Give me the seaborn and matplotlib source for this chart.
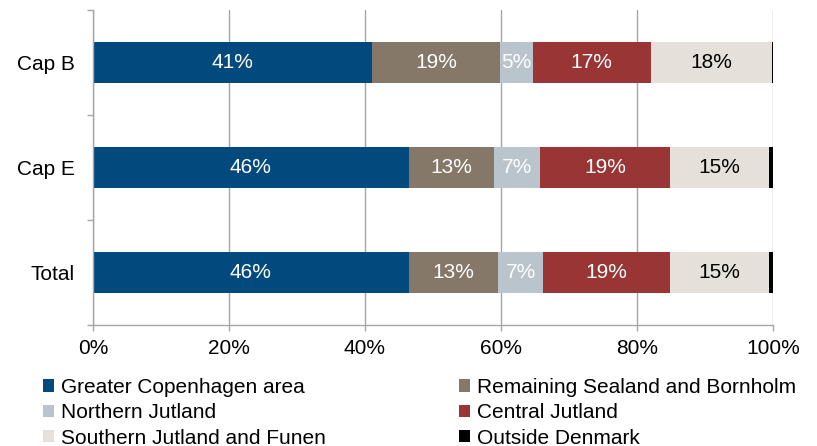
import numpy as np
import pandas as pd
import matplotlib
matplotlib.use("Agg")
import matplotlib.pyplot as plt
import seaborn as sns
from matplotlib.patches import Patch
from matplotlib.ticker import FixedLocator

# Share of each region, in percent, per group
categories = ["Cap B", "Cap E", "Total"]
region_names = [
    "Greater Copenhagen area",
    "Remaining Sealand and Bornholm",
    "Northern Jutland",
    "Central Jutland",
    "Southern Jutland and Funen",
    "Outside Denmark",
]
greater_copenhagen = [41.1, 46.4, 46.4]
remaining_sealand = [18.8, 12.6, 13.2]
northern_jutland = [4.8, 6.8, 6.6]
central_jutland = [17.3, 19.0, 18.6]
southern_jutland = [17.8, 14.6, 14.6]
outside_denmark = [0.2, 0.6, 0.6]

x_ticks = [0, 20, 40, 60, 80, 100]
x_tick_labels = ["0%", "20%", "40%", "60%", "80%", "100%"]

colors = ["#02497E", "#857868", "#B9C4CD", "#9A3535", "#E5E1DA", "#000000"]
label_colors = ["white", "white", "white", "white", "black", "white"]

sns.set_theme(style="white")
plt.rcParams["font.family"] = ["Liberation Sans", "DejaVu Sans"]
plt.rcParams["text.color"] = "black"

series = np.array([greater_copenhagen, remaining_sealand, northern_jutland,
                   central_jutland, southern_jutland, outside_denmark])
ends = np.cumsum(series, axis=0)
starts = ends - series

fig = plt.figure(figsize=(8.17, 4.46), dpi=100)
ax = fig.add_axes([93 / 817, 1 - 325 / 446, 680 / 817, 315 / 446])

# Stacked bars: draw cumulative totals from the outermost segment inwards
for i in reversed(range(len(region_names))):
    df = pd.DataFrame({"group": categories, "value": ends[i]})
    sns.barplot(data=df, x="value", y="group", order=categories, orient="h",
                color=colors[i], saturation=1, width=0.39, linewidth=0, ax=ax)

for i in range(len(region_names)):
    for j in range(len(categories)):
        v = series[i, j]
        if v >= 1:
            ax.text(starts[i, j] + v / 2, j, f"{v:.0f}%", ha="center", va="center",
                    color=label_colors[i], fontsize=15)

grey = "#A6A6A6"
ax.set_xlim(0, 100)
ax.set_ylim(2.5, -0.5)
ax.set_xticks(x_ticks)
ax.set_xticklabels(x_tick_labels)
ax.set_xlabel("")
ax.set_ylabel("")
ax.xaxis.grid(True, color=grey, linewidth=1)
ax.yaxis.grid(False)
ax.set_axisbelow(True)
for side in ["top", "right"]:
    ax.spines[side].set_visible(False)
for side in ["left", "bottom"]:
    ax.spines[side].set_visible(True)
    ax.spines[side].set_color(grey)
    ax.spines[side].set_linewidth(1)

ax.tick_params(axis="x", bottom=True, length=4, width=1, color=grey, pad=6,
               labelsize=15, labelcolor="black")
ax.yaxis.set_minor_locator(FixedLocator([-0.5, 0.5, 1.5, 2.5]))
ax.tick_params(axis="y", which="major", left=False, length=0, pad=13,
               labelsize=15, labelcolor="black")
ax.tick_params(axis="y", which="minor", left=True, length=4, width=1, color=grey)

handles = [Patch(facecolor=c, edgecolor="none") for c in colors]
legend_kw = dict(loc="upper left", bbox_transform=fig.transFigure, frameon=False,
                 borderpad=0, borderaxespad=0, handlelength=0.55, handleheight=0.55,
                 handletextpad=0.3, labelspacing=0.3, fontsize=15,
                 labelcolor="black")
top = 1 - 378 / 446
leg1 = fig.legend([handles[0], handles[2], handles[4]],
                  [region_names[0], region_names[2], region_names[4]],
                  bbox_to_anchor=(43 / 817, top), **legend_kw)
leg2 = fig.legend([handles[1], handles[3], handles[5]],
                  [region_names[1], region_names[3], region_names[5]],
                  bbox_to_anchor=(459 / 817, top), **legend_kw)

fig.savefig("out.png", dpi=100)
